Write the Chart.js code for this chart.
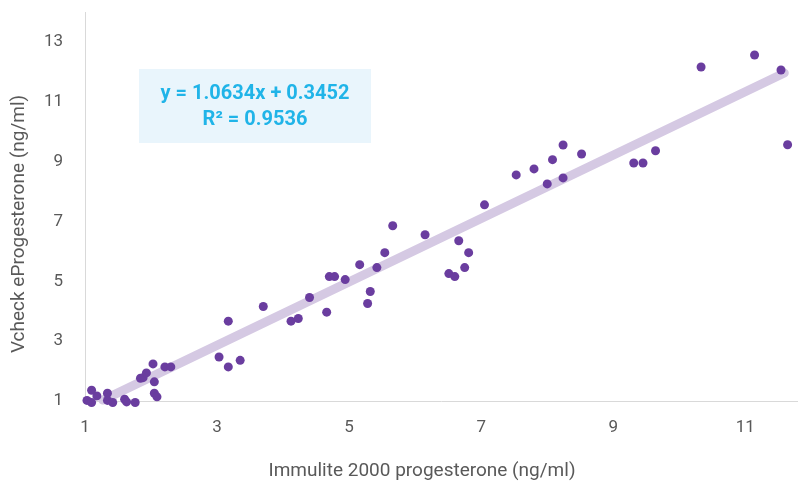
<!DOCTYPE html>
<html>
<head>
<meta charset="utf-8">
<script src="https://cdn.jsdelivr.net/npm/chart.js@4/dist/chart.umd.min.js"></script>
<style>
  body { margin: 0; background: #fff; }
  canvas { display: block; }
</style>
</head>
<body>
<canvas id="progesterone_chart" width="802" height="483"></canvas>
<script>
// values
let xVals = [1.10, 1.03, 1.10, 1.18, 1.34, 1.34, 1.42, 1.60, 1.63, 1.76,
             1.84, 1.88, 1.93, 2.03, 2.05, 2.05, 2.09, 2.21, 2.30, 3.03,
             3.17, 3.35, 3.17, 3.70, 4.12, 4.23, 4.40, 4.66, 4.70, 4.78,
             4.94, 5.16, 5.28, 5.32, 5.42, 5.54, 5.66, 6.15, 6.51, 6.60,
             6.75, 6.66, 6.81, 7.05, 7.53, 7.80, 8.00, 8.08, 8.24, 8.24,
             8.52, 9.31, 9.45, 9.64, 10.33, 11.14, 11.54, 11.64];
let yVals = [1.36, 1.02, 0.95, 1.17, 1.26, 1.02, 0.95, 1.06, 0.97, 0.95,
             1.76, 1.78, 1.94, 2.24, 1.64, 1.26, 1.14, 2.14, 2.14, 2.47,
             2.14, 2.36, 3.67, 4.16, 3.67, 3.76, 4.46, 3.97, 5.16, 5.16,
             5.06, 5.56, 4.26, 4.66, 5.46, 5.96, 6.86, 6.56, 5.26, 5.16,
             5.46, 6.36, 5.96, 7.56, 8.56, 8.76, 8.26, 9.07, 9.56, 8.46,
             9.26, 8.96, 8.96, 9.37, 12.17, 12.57, 12.07, 9.57];

// trend line as drawn
let trendX = [1.27, 11.59];
let trendY = [1.03, 11.97];

let xTicks = [1, 3, 5, 7, 9, 11];
let yTicks = [1, 3, 5, 7, 9, 11, 13];

let eqLines = ["y = 1.0634x + 0.3452", "R\u00B2 = 0.9536"];
let xTitle = "Immulite 2000 progesterone (ng/ml)";
let yTitle = "Vcheck eProgesterone (ng/ml)";

let points = xVals.map(function (x, i) { return {x: x, y: yVals[i]}; });
let trend = trendX.map(function (x, i) { return {x: x, y: trendY[i]}; });

let fontFam = "Roboto, 'Open Sans', sans-serif";
let grey = "#595959";

// equation box + axis titles
let extras = {
    id: "extras",
    afterDraw: function (chart) {
        let ctx = chart.ctx;
        let area = chart.chartArea;
        ctx.save();
        // y axis line runs a bit above the plot top in the original
        ctx.strokeStyle = "#d9d9d9";
        ctx.lineWidth = 1;
        ctx.beginPath();
        ctx.moveTo(area.left + 0.5, 12);
        ctx.lineTo(area.left + 0.5, area.top);
        ctx.stroke();

        ctx.fillStyle = "#e9f5fc";
        ctx.fillRect(139, 69, 232, 74);
        ctx.fillStyle = "#20b4e8";
        ctx.font = "bold 20px " + fontFam;
        ctx.textAlign = "center";
        ctx.textBaseline = "middle";
        ctx.fillText(eqLines[0], 255, 94);
        ctx.fillText(eqLines[1], 255, 120);

        ctx.fillStyle = grey;
        ctx.font = "19px " + fontFam;
        ctx.fillText(xTitle, 422, 471);
        ctx.translate(19, 224);
        ctx.rotate(-Math.PI / 2);
        ctx.fillText(yTitle, 0, 0);
        ctx.restore();
    }
};

let chart = new Chart($id("progesterone_chart"), {
    type: "scatter",
    data: {
        datasets: [{
            data: points,
            backgroundColor: "#6a3d9f",
            borderColor: "#6a3d9f",
            pointRadius: 4.5,
            pointHoverRadius: 4.5,
            borderWidth: 0,
            clip: false,
            order: 0
        }, {
            data: trend,
            showLine: true,
            borderColor: "#d5c9e3",
            borderWidth: 9,
            borderCapStyle: "round",
            pointRadius: 0,
            clip: false,
            order: 1
        }]
    },
    options: {
        responsive: false,
        animation: false,
        layout: { padding: 0 },
        plugins: { legend: { display: false }, tooltip: { enabled: false } },
        scales: {
            x: {
                type: "linear",
                min: 1,
                max: 11.79,
                afterBuildTicks: function (s) { s.ticks = xTicks.map(function (v) { return {value: v}; }); },
                afterFit: function (s) { s.height = 82; },
                grid: { display: false },
                border: { display: true, color: "#d9d9d9", width: 1 },
                ticks: { color: grey, font: { family: fontFam, size: 17 }, padding: 9 }
            },
            y: {
                type: "linear",
                min: 1,
                max: 13.6,
                afterBuildTicks: function (s) { s.ticks = yTicks.map(function (v) { return {value: v}; }); },
                afterFit: function (s) { s.width = 85; },
                grid: { display: false },
                border: { display: true, color: "#d9d9d9", width: 1 },
                ticks: { color: grey, font: { family: fontFam, size: 17 }, padding: 14 }
            }
        }
    },
    plugins: [extras]
});

function $id(id) { return document.getElementById(id); }
</script>
</body>
</html>
